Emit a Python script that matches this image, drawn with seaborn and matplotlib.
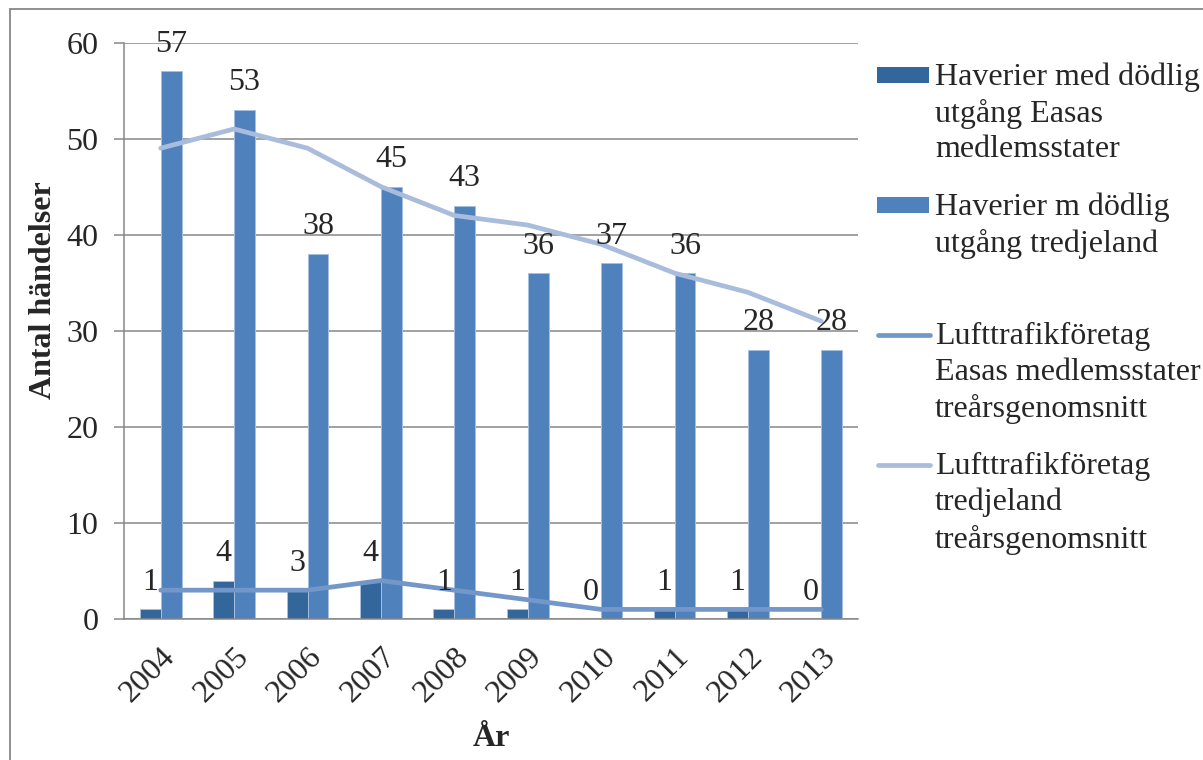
import numpy as np
import pandas as pd
import matplotlib.pyplot as plt
from matplotlib.patches import Rectangle
from matplotlib.lines import Line2D
from matplotlib.transforms import ScaledTranslation
import seaborn as sns

# Data
years = ["2004", "2005", "2006", "2007", "2008", "2009", "2010", "2011", "2012", "2013"]
easa_fatal = [1, 4, 3, 4, 1, 1, 0, 1, 1, 0]
third_fatal = [57, 53, 38, 45, 43, 36, 37, 36, 28, 28]
easa_avg3 = [3, 3, 3, 4, 3, 2, 1, 1, 1, 1]
third_avg3 = [49, 51, 49, 45, 42, 41, 39, 36, 34, 31]

labels = [
    "Haverier med dödlig\nutgång Easas\nmedlemsstater",
    "Haverier m dödlig\nutgång tredjeland",
    "Lufttrafikföretag\nEasas medlemsstater\ntreårsgenomsnitt",
    "Lufttrafikföretag\ntredjeland\ntreårsgenomsnitt",
]

dark_blue = "#33669a"
mid_blue = "#4f81bd"
line1_col = "#7397c8"
line2_col = "#a9bcdc"
grey = "#878787"

sns.set_style("white")
plt.rcParams["font.family"] = ["Liberation Serif", "DejaVu Serif"]
fs = 23

W, H = 1203, 760
fig = plt.figure(figsize=(W / 100, H / 100), dpi=100)
ax = fig.add_axes([124 / W, 1 - 619 / H, (858 - 124) / W, (619 - 42.5) / H])


def px(x, y):
    # pixel position -> figure fraction
    return x / W, 1 - y / H


df = pd.DataFrame({
    "År": years * 2,
    "Antal": easa_fatal + third_fatal,
    "Serie": [labels[0]] * len(years) + [labels[1]] * len(years),
})

sns.barplot(data=df, x="År", y="Antal", hue="Serie", palette=[dark_blue, mid_blue],
            saturation=1, width=0.57, edgecolor="#a8bfdf", linewidth=0.7,
            legend=False, ax=ax, zorder=2)

xs = np.arange(len(years))
sns.lineplot(x=xs, y=easa_avg3, color=line1_col, lw=3.4, ax=ax, zorder=3,
             solid_capstyle="round")
sns.lineplot(x=xs, y=third_avg3, color=line2_col, lw=3.4, ax=ax, zorder=3,
             solid_capstyle="round")

for cont in ax.containers:
    ax.bar_label(cont, padding=9, fontsize=fs)

ax.set_xlim(-0.5, len(years) - 0.5)
ax.set_ylim(0, 60)
ax.set_yticks(range(0, 61, 10))
ax.set_xticks(xs)
ax.set_xticks(np.arange(-0.5, len(years), 1), minor=True)
ax.set_xticklabels(years, rotation=45, ha="right", va="top", rotation_mode="anchor")
shift = ScaledTranslation(-6 / 100, 0, fig.dpi_scale_trans)
for lab in ax.get_xticklabels():
    lab.set_transform(lab.get_transform() + shift)
ax.tick_params(axis="x", which="major", length=0, pad=17, labelsize=fs)
ax.tick_params(axis="x", which="minor", length=7, width=1.1, color=grey, direction="out")
ax.tick_params(axis="y", length=7.5, width=1.1, color=grey, direction="out",
               pad=11, labelsize=fs, left=True)

ax.grid(axis="y", color=grey, lw=1.1, zorder=0)
ax.set_axisbelow(True)
for s in ["top", "right"]:
    ax.spines[s].set_visible(False)
for s in ["left", "bottom"]:
    ax.spines[s].set_color(grey)
    ax.spines[s].set_linewidth(1.1)

ax.set_ylabel("Antal händelser", fontsize=fs, fontweight="bold")
ax.yaxis.label.set_va("center")
ax.yaxis.set_label_coords((44 - 124) / (858 - 124), (619 - 290) / (619 - 42.5))
ax.set_xlabel("År", fontsize=fs, fontweight="bold")
ax.xaxis.label.set_va("center")
ax.xaxis.set_label_coords(0.5, (619 - 739) / (619 - 42.5))

# legend drawn by hand so the keys sit on the first text line
baselines = [85, 215, 345, 475]
for i, (lab, by) in enumerate(zip(labels, baselines)):
    if i < 2:
        x0, y0 = px(877, by - 2)
        x1, y1 = px(929, by - 18)
        fig.add_artist(Rectangle((x0, y0), x1 - x0, y1 - y0, transform=fig.transFigure,
                                 facecolor=[dark_blue, mid_blue][i], edgecolor="none"))
    else:
        xa, ya = px(878, by - 10)
        xb, _ = px(930, by - 10)
        fig.add_artist(Line2D([xa, xb], [ya, ya], transform=fig.transFigure,
                              color=[line1_col, line2_col][i - 2], lw=3.4,
                              solid_capstyle="round"))
    tx, tyf = px(935, by - 23)
    fig.text(tx, tyf, lab, fontsize=fs, ha="left", va="top", linespacing=1.31)

# outer chart frame
fx, fy = px(10, 9)
fig.add_artist(Rectangle((fx, -0.2), 1.2, fy + 0.2, transform=fig.transFigure,
                         fill=False, edgecolor=grey, lw=1.3))

fig.savefig("out.png", dpi=100)
